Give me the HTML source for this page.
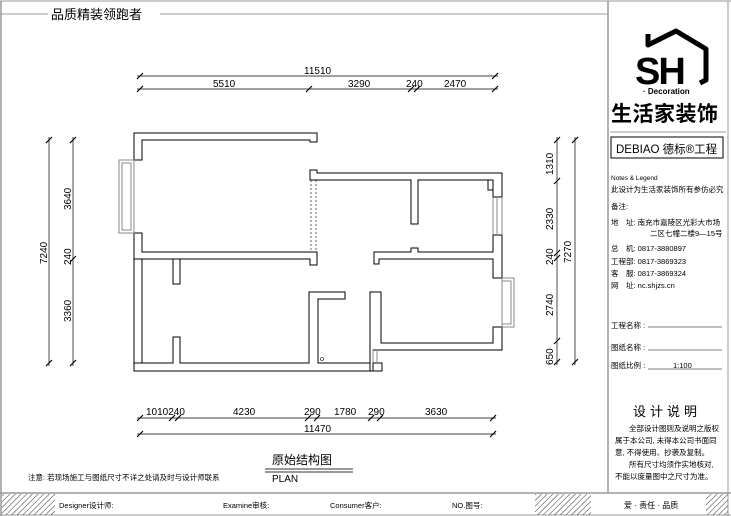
<!DOCTYPE html>
<html><head><meta charset="utf-8"><style>
html,body{margin:0;padding:0;background:#fff;}
svg{display:block;}
text{font-family:"Liberation Sans","Noto Sans CJK SC",sans-serif;fill:#000;}
</style></head><body>
<svg width="731" height="516" viewBox="0 0 731 516" xmlns="http://www.w3.org/2000/svg">
<defs>
<pattern id="h" width="4" height="4" patternUnits="userSpaceOnUse" patternTransform="rotate(45)">
<line x1="0" y1="0" x2="0" y2="4" stroke="#333" stroke-width="1"/></pattern>
</defs>
<!-- frame -->
<line x1="0" y1="1" x2="731" y2="1" stroke="#999"/>
<line x1="1" y1="1" x2="1" y2="516" stroke="#999" stroke-width="1.5"/>
<line x1="0" y1="14" x2="608" y2="14" stroke="#999"/>
<rect x="48" y="6" width="112" height="14" fill="#fff"/>
<text x="51" y="19" font-size="13">品质精装领跑者</text>
<line x1="608" y1="1" x2="608" y2="493" stroke="#999" stroke-width="1.5"/>
<line x1="728" y1="1" x2="728" y2="516" stroke="#999"/>
<line x1="0" y1="493" x2="731" y2="493" stroke="#999" stroke-width="1.5"/>
<line x1="0" y1="515" x2="731" y2="515" stroke="#999"/>
<rect x="2" y="494" width="53" height="21" fill="url(#h)"/>
<rect x="535" y="494" width="56" height="21" fill="url(#h)"/>
<rect x="706" y="494" width="22" height="21" fill="url(#h)"/>
<g font-size="7.5" font-family="Liberation Mono,Noto Sans CJK SC,monospace">
<text x="59" y="508">Designer设计师:</text>
<text x="223" y="508">Examine审核:</text>
<text x="330" y="508">Consumer客户:</text>
<text x="452" y="508">NO.图号:</text>
</g>
<text x="624" y="508" font-size="8">爱 · 责任 · 品质</text>

<!-- right panel -->
<polyline points="648,34 648,45 676,31 706,49 706,80 700,83" fill="none" stroke="#000" stroke-width="5" stroke-linejoin="round"/>
<text x="635" y="84" font-size="38" font-weight="bold" letter-spacing="-2">SH</text>
<text x="643" y="94" font-size="8" font-weight="bold">· Decoration</text>
<text x="611" y="121" font-size="21" font-weight="bold" letter-spacing="0.5">生活家装饰</text>
<line x1="610" y1="132" x2="726" y2="132" stroke="#999"/>
<rect x="611" y="137" width="112" height="21" fill="none" stroke="#000"/>
<text x="616" y="153" font-size="11.5">DEBIAO 德标®工程</text>
<g font-size="7.5">
<text x="611" y="180" font-family="Liberation Mono,monospace" font-size="6.5">Notes &amp; Legend</text>
<text x="611" y="192">此设计为生活家装饰所有参仿必究</text>
<text x="611" y="209">备注:</text>
<text x="611" y="225">地　址: 南充市嘉陵区光彩大市场</text>
<text x="650" y="236">二区七幢二楼9—15号</text>
<text x="611" y="251">总　机: 0817-3880897</text>
<text x="611" y="264">工程部: 0817-3869323</text>
<text x="611" y="276">客　服: 0817-3869324</text>
<text x="611" y="288">网　址: nc.shjzs.cn</text>
<text x="611" y="328">工程名称 :</text>
<text x="611" y="350">图纸名称 :</text>
<text x="611" y="368">图纸比例 :</text>
<text x="673" y="368">1:100</text>
</g>
<line x1="648" y1="327" x2="722" y2="327" stroke="#555" stroke-width="0.7"/>
<line x1="648" y1="350" x2="722" y2="350" stroke="#555" stroke-width="0.7"/>
<line x1="648" y1="369" x2="722" y2="369" stroke="#555" stroke-width="0.7"/>
<text x="633" y="416" font-size="13" letter-spacing="4">设计说明</text>
<g font-size="7.5">
<text x="629" y="431">全部设计图则及说明之版权</text>
<text x="615" y="443">属于本公司, 未得本公司书面同</text>
<text x="615" y="455">意, 不得使用、抄袭及复制。</text>
<text x="629" y="467">所有尺寸均须作实地核对,</text>
<text x="615" y="479">不能以度量图中之尺寸为准。</text>
</g>

<!-- dims -->
<g stroke="#000" stroke-width="0.7" fill="none">
<line x1="137" y1="76" x2="498" y2="76"/><line x1="137" y1="89" x2="498" y2="89"/>
<line x1="49" y1="137" x2="49" y2="366"/><line x1="73" y1="137" x2="73" y2="366"/>
<line x1="557" y1="137" x2="557" y2="365"/><line x1="575" y1="137" x2="575" y2="365"/>
<line x1="137" y1="418" x2="496" y2="418"/><line x1="137" y1="434" x2="496" y2="434"/>
</g>
<g stroke="#000" stroke-width="1.2">
<path d="M137,79 l6,-6 M492,79 l6,-6 M137,92 l6,-6 M306,92 l6,-6 M408,92 l6,-6 M414,92 l6,-6 M492,92 l6,-6"/>
<path d="M46,143 l6,-6 M46,366 l6,-6 M70,143 l6,-6 M70,262 l6,-6 M70,366 l6,-6"/>
<path d="M554,143 l6,-6 M554,184 l6,-6 M554,256 l6,-6 M554,261 l6,-6 M554,344 l6,-6 M554,365 l6,-6 M572,143 l6,-6 M572,365 l6,-6"/>
<path d="M137,421 l6,-6 M169,421 l6,-6 M175,421 l6,-6 M305,421 l6,-6 M314,421 l6,-6 M368,421 l6,-6 M377,421 l6,-6 M490,421 l6,-6 M137,437 l6,-6 M490,437 l6,-6"/>
</g>
<g font-size="10">
<text x="304" y="74">11510</text>
<text x="213" y="87">5510</text><text x="348" y="87">3290</text><text x="406" y="87">240</text><text x="444" y="87">2470</text>
<text x="146" y="415">1010240</text><text x="233" y="415">4230</text><text x="304" y="415">290</text><text x="334" y="415">1780</text><text x="368" y="415">290</text><text x="425" y="415">3630</text>
<text x="304" y="432">11470</text>
</g>
<g font-size="10">
<text transform="translate(47,264) rotate(-90)">7240</text>
<text transform="translate(71,210) rotate(-90)">3640</text>
<text transform="translate(71,265) rotate(-90)">240</text>
<text transform="translate(71,322) rotate(-90)">3360</text>
<text transform="translate(553,175) rotate(-90)">1310</text>
<text transform="translate(553,230) rotate(-90)">2330</text>
<text transform="translate(553,265) rotate(-90)">240</text>
<text transform="translate(553,316) rotate(-90)">2740</text>
<text transform="translate(553,365) rotate(-90)">650</text>
<text transform="translate(571,263) rotate(-90)">7270</text>
</g>
<text x="272" y="464" font-size="12" font-family="Liberation Serif,Noto Serif CJK SC,serif" fill="#333">原始结构图</text>
<line x1="265" y1="469" x2="353" y2="469" stroke="#333"/><line x1="265" y1="472" x2="353" y2="472" stroke="#333"/>
<text x="272" y="482" font-size="10" font-family="Liberation Serif,serif">PLAN</text>
<text x="28" y="480" font-size="7.5">注意: 若现场施工与图纸尺寸不详之处请及时与设计师联系</text>

<!-- walls -->
<g fill="#fff" stroke="#000" stroke-width="1">
<path d="M134,133 H317 V142 H310 V140 H142 V160 H134 Z"/>
<path d="M134,233 H142 V252 H317 V265 H310 V259 H134 Z"/>
<rect x="134" y="259" width="8" height="104"/>
<rect x="173" y="259" width="7" height="25"/>
<path d="M173,337 H180 V363 H309 V292 H345 V299 H318 V363 H382 V371 H134 V363 H173 Z"/>
<path d="M370,292 H381 V343 H493 V327 H502 V350 H373 V371 H370 Z"/>
<path d="M310,170 H317 V173 H502 V197 H493 V180 H418 V224 H411 V180 H317 V180 H310 Z"/>
<path d="M493,235 H502 V278 H493 V259 H379 V264 H374 V252 H411 V248 H418 V252 H493 Z"/>
<rect x="488" y="180" width="5" height="10"/>
</g>
<g fill="none" stroke="#888" stroke-width="1">
<rect x="119" y="160" width="15" height="73"/><rect x="122" y="163" width="9" height="67"/>
<rect x="502" y="278" width="12" height="49"/><rect x="502" y="281" width="9" height="43"/>
<line x1="493" y1="197" x2="493" y2="235"/><line x1="497" y1="197" x2="497" y2="235"/><line x1="502" y1="197" x2="502" y2="235"/>
<line x1="373" y1="350" x2="373" y2="363"/><line x1="377" y1="350" x2="377" y2="363"/>
</g>
<g stroke="#000" stroke-width="0.6" stroke-dasharray="2,2">
<line x1="311" y1="180" x2="311" y2="252"/><line x1="316" y1="180" x2="316" y2="252"/>
</g>
<circle cx="322" cy="359" r="1.5" fill="none" stroke="#000" stroke-width="0.6"/>
</svg>
</body></html>
